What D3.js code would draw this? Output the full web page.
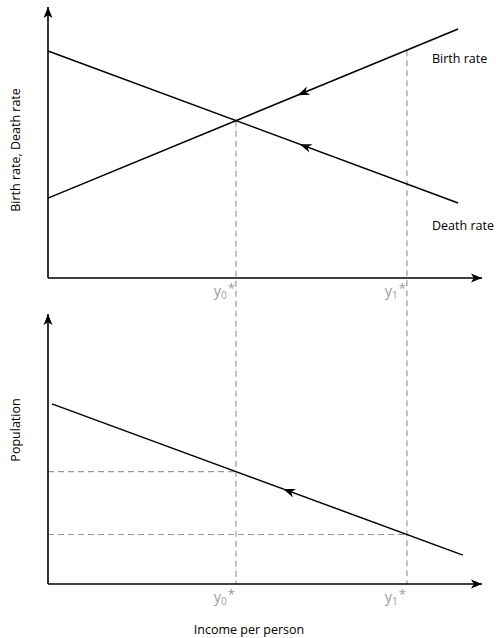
<!DOCTYPE html>
<html><head><meta charset="utf-8">
<script src="https://cdn.jsdelivr.net/npm/d3@7"></script>
<style>body{margin:0;background:#fff}svg{display:block}text{font-family:"Open Sans","Noto Sans",sans-serif}</style>
</head><body>
<script>
// Data (arbitrary units)
const birthRate = [{x: 0, y: 29.6}, {x: 94.5, y: 92.2}];
const deathRate = [{x: 0, y: 84.1}, {x: 94.5, y: 27.8}];
const population = [{x: 0.9, y: 66.7}, {x: 95.6, y: 10.7}];
const incomeMarks = [{name: "0", x: 43.3}, {name: "1", x: 82.7}];
const arrowX = {birth: 57.5, death: 58.0, population: 54.2};
const lineLabels = ["Birth rate", "Death rate"];

const W = 496, H = 638;
const svg = d3.select("body").append("svg").attr("width", W).attr("height", H);

const x = d3.scaleLinear().domain([0, 100]).range([48, 482]);
const yTop = d3.scaleLinear().domain([0, 100]).range([278, 8]);
const yBot = d3.scaleLinear().domain([0, 100]).range([584, 314]);

const interp = (pts, xv) => {
  const [a, b] = pts; return a.y + (b.y - a.y) * (xv - a.x) / (b.x - a.x);
};

// dashed guides
const gray = "#9a9a9a";
function dashed(x1, y1, x2, y2) {
  svg.append("line").attr("x1", x1).attr("y1", y1).attr("x2", x2).attr("y2", y2)
    .attr("stroke", gray).attr("stroke-width", 1.2).attr("stroke-dasharray", "6,4");
}
incomeMarks.forEach(m => {
  const topY = yTop(interp(birthRate, m.x));
  dashed(x(m.x), topY, x(m.x), yBot(0));
  const py = yBot(interp(population, m.x));
  dashed(x(0), py, x(m.x), py);
});

// axes with arrowheads
function axisArrow(x1, y1, x2, y2) {
  svg.append("line").attr("x1", x1).attr("y1", y1).attr("x2", x2).attr("y2", y2)
    .attr("stroke", "#000").attr("stroke-width", 1.6);
  const ang = Math.atan2(y2 - y1, x2 - x1);
  const L = 11, Wd = 4.5;
  const p = [[x2, y2],
    [x2 - L * Math.cos(ang) + Wd * Math.sin(ang), y2 - L * Math.sin(ang) - Wd * Math.cos(ang)],
    [x2 - L * 0.75 * Math.cos(ang), y2 - L * 0.75 * Math.sin(ang)],
    [x2 - L * Math.cos(ang) - Wd * Math.sin(ang), y2 - L * Math.sin(ang) + Wd * Math.cos(ang)]];
  svg.append("path").attr("d", "M" + p.map(d => d.join(",")).join("L") + "Z").attr("fill", "#000");
}
axisArrow(x(0), yTop(0), x(0), yTop(100) - 1);
axisArrow(x(0), yTop(0), x(100), yTop(0));
axisArrow(x(0), yBot(0), x(0), yBot(100));
axisArrow(x(0), yBot(0), x(100), yBot(0));

// lines
const line = d3.line();
function drawLine(pts, ys) {
  svg.append("path").attr("d", line(pts.map(d => [x(d.x), ys(d.y)])))
    .attr("fill", "none").attr("stroke", "#000").attr("stroke-width", 1.5);
}
drawLine(birthRate, yTop);
drawLine(deathRate, yTop);
drawLine(population, yBot);

// direction arrows (pointing left)
function midArrow(pts, ys, xv) {
  const tx = x(xv), ty = ys(interp(pts, xv));
  const a = pts[0], b = pts[1];
  const ang = Math.atan2(ys(a.y) - ys(b.y), x(a.x) - x(b.x));
  const L = 12, Wd = 4.5;
  const p = [[tx, ty],
    [tx - L * Math.cos(ang) + Wd * Math.sin(ang), ty - L * Math.sin(ang) - Wd * Math.cos(ang)],
    [tx - L * 0.7 * Math.cos(ang), ty - L * 0.7 * Math.sin(ang)],
    [tx - L * Math.cos(ang) - Wd * Math.sin(ang), ty - L * Math.sin(ang) + Wd * Math.cos(ang)]];
  svg.append("path").attr("d", "M" + p.map(d => d.join(",")).join("L") + "Z").attr("fill", "#000");
}
midArrow(birthRate, yTop, arrowX.birth);
midArrow(deathRate, yTop, arrowX.death);
midArrow(population, yBot, arrowX.population);

// line labels
svg.append("text").attr("x", 432).attr("y", 63).attr("font-size", 12.5).text(lineLabels[0]);
svg.append("text").attr("x", 432).attr("y", 230).attr("font-size", 12.5).text(lineLabels[1]);

// income labels
function yLabel(m, baseY) {
  const t = svg.append("text").attr("x", x(m.x) - 1).attr("y", baseY)
    .attr("text-anchor", "end").attr("fill", gray).attr("font-size", 14.5);
  t.append("tspan").text("y");
  t.append("tspan").attr("font-size", 10).attr("dy", 3).text(m.name);
  t.append("tspan").attr("font-size", 13).attr("dy", -6).attr("dx", 1).text("*");
}
incomeMarks.forEach(m => { yLabel(m, 296); yLabel(m, 602); });

// axis titles
svg.append("text").attr("transform", `translate(20,150) rotate(-90)`)
  .attr("text-anchor", "middle").attr("font-size", 12.5).text("Birth rate, Death rate");
svg.append("text").attr("transform", `translate(20,430) rotate(-90)`)
  .attr("text-anchor", "middle").attr("font-size", 12.5).text("Population");
svg.append("text").attr("x", 249).attr("y", 634).attr("text-anchor", "middle")
  .attr("font-size", 12.5).text("Income per person");
</script>
</body></html>
